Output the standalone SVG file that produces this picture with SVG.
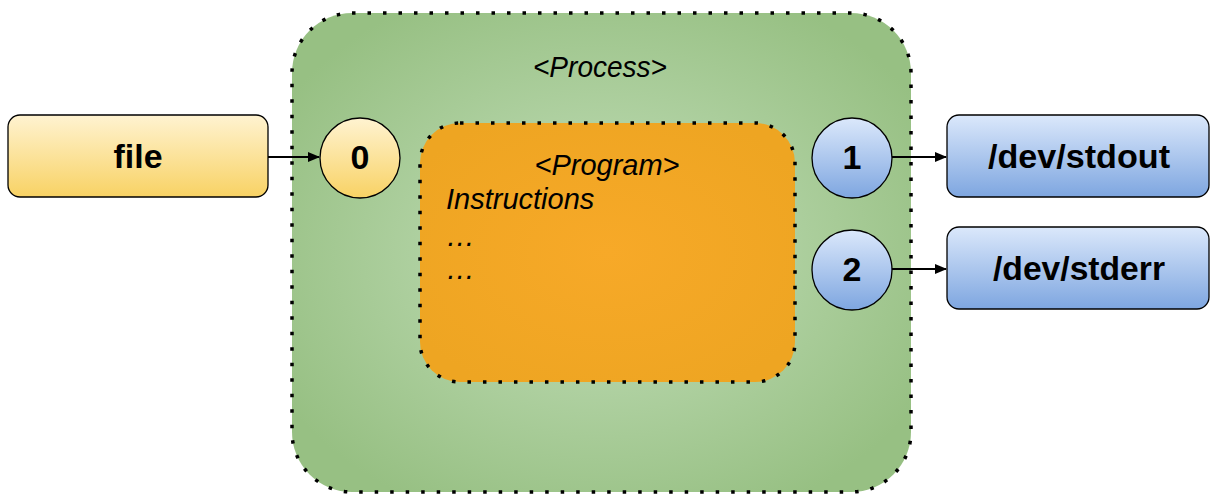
<svg xmlns="http://www.w3.org/2000/svg" width="1221" height="504" viewBox="0 0 1221 504">
<style>
.dot{stroke:#000;stroke-width:3.5;stroke-dasharray:3.5 12}
.node{stroke:#000;stroke-width:1.3}
.lbl{font-family:"Liberation Sans",Arial,sans-serif;font-weight:bold;font-size:33px;fill:#000;text-anchor:middle}
.num{font-size:34px}
.it{font-family:"Liberation Sans",Arial,sans-serif;font-style:italic;font-size:29px;fill:#000}
.conn{stroke:#000;stroke-width:2;fill:none;marker-end:url(#arr)}
</style>
<defs>
<radialGradient id="gGreen" cx="50%" cy="50%" r="60%">
<stop offset="0" stop-color="#c4dfbb"/>
<stop offset="1" stop-color="#97c083"/>
</radialGradient>
<radialGradient id="gOrange" cx="50%" cy="50%" r="60%">
<stop offset="0" stop-color="#f7a928"/>
<stop offset="1" stop-color="#eea522"/>
</radialGradient>
<linearGradient id="gYellow" x1="0" y1="0" x2="0" y2="1">
<stop offset="0" stop-color="#fff3d1"/>
<stop offset="1" stop-color="#f8d264"/>
</linearGradient>
<linearGradient id="gBlue" x1="0" y1="0" x2="0" y2="1">
<stop offset="0" stop-color="#dbe8fb"/>
<stop offset="1" stop-color="#7ea6e0"/>
</linearGradient>
<marker id="arr" markerWidth="12" markerHeight="10" refX="11" refY="5" orient="auto" markerUnits="userSpaceOnUse">
<path d="M0,0 L12,5 L0,10 Z" fill="#000"/>
</marker>
</defs>
<g id="process">
<rect x="292" y="13" width="619" height="479" rx="60" ry="60" fill="url(#gGreen)" class="dot"/>
<text x="600" y="77" class="it" text-anchor="middle" font-size="26" textLength="134" lengthAdjust="spacingAndGlyphs">&lt;Process&gt;</text>
</g>
<g id="program">
<rect x="420" y="123" width="375" height="259" rx="40" ry="40" fill="url(#gOrange)" class="dot"/>
<text x="607" y="175" class="it" text-anchor="middle">&lt;Program&gt;</text>
<text x="446" y="209" class="it">Instructions</text>
<text x="446" y="246" class="it">…</text>
<text x="446" y="279" class="it">…</text>
</g>
<g id="file">
<rect x="8" y="115" width="260" height="82" rx="12" ry="12" fill="url(#gYellow)" class="node"/>
<text x="138" y="168" class="lbl" textLength="49" lengthAdjust="spacingAndGlyphs">file</text>
</g>
<g id="fd0">
<circle cx="360" cy="158" r="40" fill="url(#gYellow)" class="node"/>
<text x="360" y="169" class="lbl num">0</text>
</g>
<g id="fd1">
<circle cx="852" cy="158" r="40" fill="url(#gBlue)" class="node"/>
<text x="852" y="169" class="lbl num">1</text>
</g>
<g id="fd2">
<circle cx="852" cy="270" r="40" fill="url(#gBlue)" class="node"/>
<text x="852" y="281" class="lbl num">2</text>
</g>
<g id="stdout">
<rect x="947" y="115" width="262" height="82" rx="12" ry="12" fill="url(#gBlue)" class="node"/>
<text x="1079" y="168" class="lbl" textLength="182" lengthAdjust="spacingAndGlyphs">/dev/stdout</text>
</g>
<g id="stderr">
<rect x="947" y="227" width="262" height="82" rx="12" ry="12" fill="url(#gBlue)" class="node"/>
<text x="1079" y="280" class="lbl" textLength="172" lengthAdjust="spacingAndGlyphs">/dev/stderr</text>
</g>
<g id="connectors">
<line x1="268" y1="157" x2="319" y2="157" class="conn"/>
<line x1="892" y1="157" x2="946" y2="157" class="conn"/>
<line x1="892" y1="269" x2="946" y2="269" class="conn"/>
</g>
</svg>
